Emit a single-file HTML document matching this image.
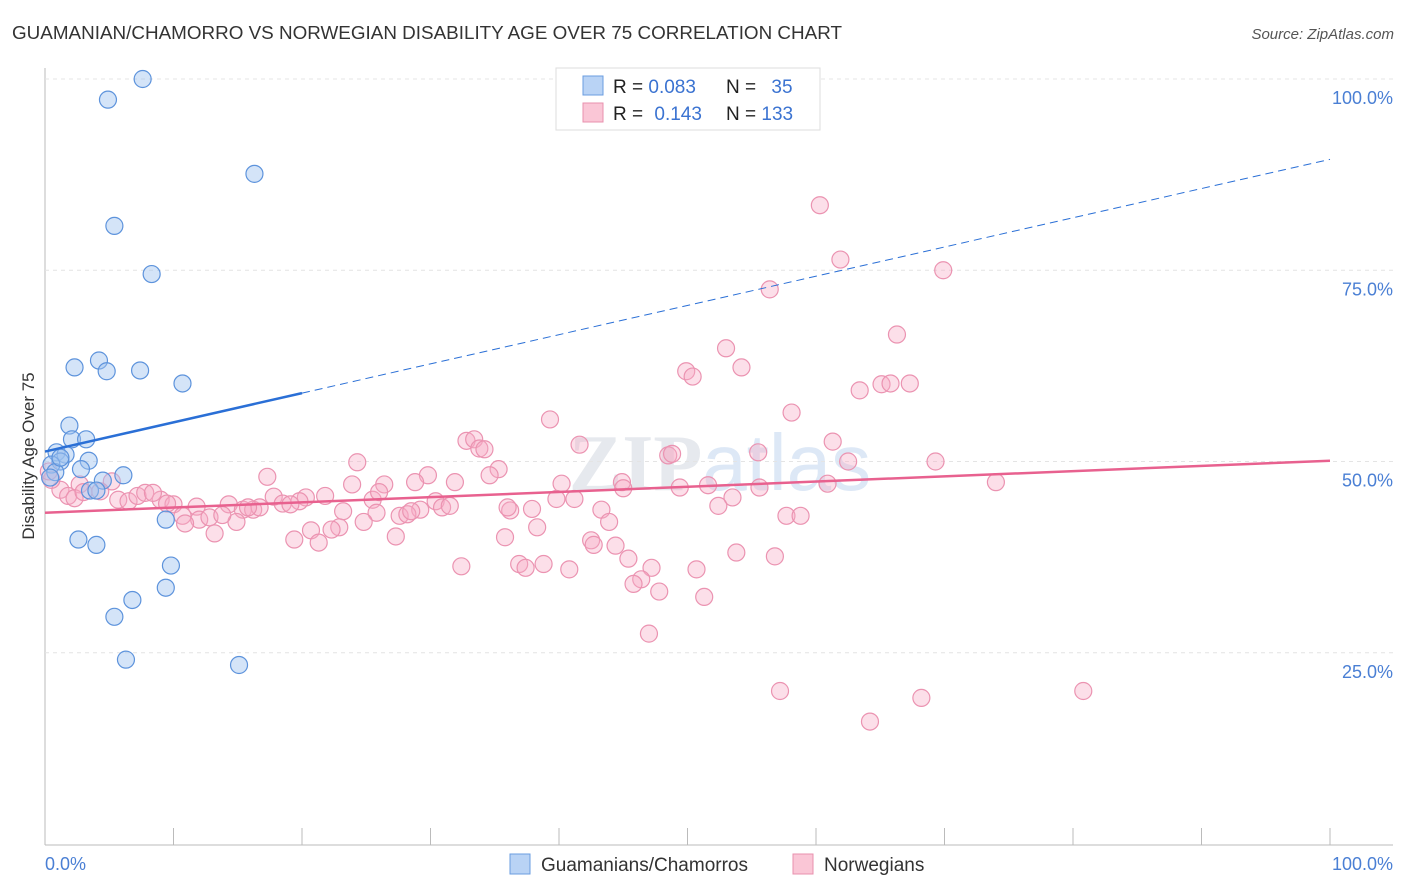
<!DOCTYPE html>
<html><head><meta charset="utf-8"><style>
body{margin:0;background:#fff;font-family:"Liberation Sans",sans-serif}
svg{display:block}
</style></head><body>
<svg id="c" width="1406" height="892" xmlns="http://www.w3.org/2000/svg">
<text x="12" y="39" font-size="18" fill="#333" textLength="830" lengthAdjust="spacingAndGlyphs">GUAMANIAN/CHAMORRO VS NORWEGIAN DISABILITY AGE OVER 75 CORRELATION CHART</text>
<text x="1394" y="39" font-size="15" fill="#555" font-style="italic" text-anchor="end">Source: ZipAtlas.com</text>
<text x="720" y="490" font-size="80" fill="#e6e9ee" text-anchor="middle" font-weight="bold" font-family="Liberation Serif,serif">ZIP<tspan fill="#dde8f6" font-family="Liberation Sans,sans-serif" font-weight="normal">atlas</tspan></text>
<text transform="translate(34,456) rotate(-90)" font-size="17" fill="#333" text-anchor="middle">Disability Age Over 75</text>
<g id="grid"></g><g id="ticks"></g><g id="pts"></g><g id="lines"></g>
<g>
<rect x="556" y="68" width="264" height="62" fill="#fff" stroke="#ddd"/>
<rect x="583" y="76" width="20" height="19" fill="#b9d3f5" stroke="#6a9de0"/>
<rect x="583" y="103" width="20" height="19" fill="#fac6d6" stroke="#e890ae"/>
<text x="613" y="93" font-size="19" fill="#222">R = <tspan fill="#3b73d1">0.083</tspan></text>
<text x="726" y="93" font-size="19" fill="#222">N = <tspan fill="#3b73d1" dx="10">35</tspan></text>
<text x="613" y="120" font-size="19" fill="#222">R = <tspan fill="#3b73d1" dx="6">0.143</tspan></text>
<text x="726" y="120" font-size="19" fill="#222">N = <tspan fill="#3b73d1">133</tspan></text>
</g>
<g>
<rect x="510" y="854" width="20" height="20" fill="#b9d3f5" stroke="#6a9de0"/>
<text x="541" y="871" font-size="19" fill="#333">Guamanians/Chamorros</text>
<rect x="793" y="854" width="20" height="20" fill="#fac6d6" stroke="#e890ae"/>
<text x="824" y="871" font-size="19" fill="#333">Norwegians</text>
</g>
</svg>
<script>
const xTickLabels=["0.0%","100.0%"];
const yTicks=[25,50,75,100];
const yTickLabels=["25.0%","50.0%","75.0%","100.0%"];
const blueX=[7.6,4.9,16.3,5.4,8.3,4.2,2.3,4.8,7.4,10.7,1.9,2.1,3.2,0.9,1.6,1.2,3.4,0.5,2.8,0.8,6.1,0.4,4.5,3.5,4.0,9.4,2.6,4.0,9.8,6.8,9.4,5.4,6.3,15.1,1.2];
const blueY=[100,97.3,87.6,80.8,74.5,63.2,62.3,61.8,61.9,60.2,54.7,52.9,52.9,51.2,50.9,50.0,50.1,49.6,49.0,48.6,48.2,47.9,47.5,46.2,46.2,42.4,39.8,39.1,36.4,31.9,33.5,29.7,24.1,23.4,50.5];
const pinkX=[60.3,61.9,69.9,56.4,66.3,53.0,54.2,49.9,50.4,63.4,65.1,65.8,67.3,58.1,39.3,61.3,41.6,32.8,33.4,33.8,34.2,55.5,48.5,48.8,62.5,69.3,24.3,35.3,34.6,17.3,29.8,60.9,74.0,40.2,44.9,23.9,26.4,28.8,31.9,49.4,51.6,55.6,53.5,39.8,41.2,21.8,17.8,20.3,25.5,30.4,19.8,18.5,19.1,52.4,43.3,30.9,31.5,29.2,36.2,37.9,11.8,14.3,15.4,16.2,16.7,5.7,6.5,9.0,10.0,7.2,7.8,8.4,5.2,4.3,2.7,1.2,1.8,2.3,0.5,0.3,10.7,12.0,12.8,10.9,14.9,13.2,23.2,25.8,27.6,28.2,24.8,22.9,22.3,20.7,43.9,38.3,57.7,58.8,19.4,21.3,27.3,35.8,42.5,42.7,44.4,53.8,56.8,45.4,32.4,36.9,37.4,38.8,40.8,47.2,50.7,46.4,45.8,47.8,51.3,47.0,57.2,68.2,80.8,64.2,3.0,9.5,13.8,26.0,45.0,36.0,28.5,15.8];
const pinkY=[83.5,76.4,75.0,72.5,66.6,64.8,62.3,61.8,61.1,59.3,60.1,60.2,60.2,56.4,55.5,52.6,52.2,52.7,52.9,51.7,51.6,51.2,50.8,51.0,50.0,50.0,49.9,49.0,48.2,48.0,48.2,47.1,47.3,47.1,47.3,47.0,47.0,47.3,47.3,46.6,46.9,46.6,45.3,45.1,45.1,45.5,45.4,45.3,45.0,44.8,44.8,44.5,44.4,44.2,43.7,44.0,44.2,43.7,43.6,43.8,44.1,44.4,43.7,43.7,44.0,45.0,44.8,45.0,44.4,45.5,45.9,45.9,47.4,46.1,47.0,46.3,45.5,45.2,47.6,48.7,42.9,42.4,42.7,41.9,42.1,40.6,43.5,43.3,42.9,43.1,42.1,41.4,41.1,41.0,42.1,41.4,42.9,42.9,39.8,39.4,40.2,40.1,39.7,39.1,39.0,38.1,37.6,37.3,36.3,36.6,36.1,36.6,35.9,36.1,35.9,34.6,34.0,33.0,32.3,27.5,20.0,19.1,20.0,16.0,46.0,44.5,43.0,46.0,46.5,44.0,43.5,44.0];
const trendIntercept=[51.3,43.3];
const trendSlope=[0.382,0.068];
const NS="http://www.w3.org/2000/svg";
const X0=45,X1=1330,Y0=844,Y100=79;
const sx=v=>X0+(X1-X0)*v/100, sy=v=>Y0-(Y0-Y100)*v/100;
function mk(t,a,p){const e=document.createElementNS(NS,t);for(const k in a)e.setAttribute(k,a[k]);document.getElementById(p).appendChild(e);return e;}
let ax=mk('line',{x1:X0,y1:68,x2:X0,y2:845,stroke:'#bbb'},'grid');

let bx=mk('line',{x1:X0,y1:845,x2:1393,y2:845,stroke:'#bbb'},'grid');

yTicks.forEach((v,i)=>{
 const g=mk('line',{x1:X0,y1:sy(v),x2:1393,y2:sy(v),stroke:'#e4e4e4','stroke-dasharray':'4,4'},'grid');
 
 const t=mk('text',{x:1393,y:sy(v)+25,'font-size':18,fill:'#4a7fd4','text-anchor':'end'},'ticks');
 t.textContent=yTickLabels[i];
 
});
for(let i=0;i<=10;i++){
 const l=mk('line',{x1:sx(i*10),y1:828,x2:sx(i*10),y2:845,stroke:'#bbb'},'ticks');
 
}
[[0,'start',45],[100,'end',1393]].forEach((d,i)=>{
 const t=mk('text',{x:d[2],y:870,'font-size':18,fill:'#4a7fd4','text-anchor':d[1]},'ticks');
 t.textContent=xTickLabels[i];
 
});
pinkX.forEach((x,i)=>{
 const c=mk('circle',{cx:sx(x),cy:sy(pinkY[i]),r:8.5,fill:'rgba(246,170,196,0.38)',stroke:'#eb93b1','stroke-width':1.2},'pts');
 
});
blueX.forEach((x,i)=>{
 const c=mk('circle',{cx:sx(x),cy:sy(blueY[i]),r:8.5,fill:'rgba(160,196,240,0.45)',stroke:'#5d93dc','stroke-width':1.2},'pts');
 
});
const f=(k,x)=>trendIntercept[k]+trendSlope[k]*x;
let b1=mk('line',{x1:sx(0),y1:sy(f(0,0)),x2:sx(20),y2:sy(f(0,20)),stroke:'#2a6fd6','stroke-width':2.5},'lines');

let b2=mk('line',{x1:sx(20),y1:sy(f(0,20)),x2:sx(100),y2:sy(f(0,100)),stroke:'#2a6fd6','stroke-width':1,'stroke-dasharray':'8,5'},'lines');

let p1=mk('line',{x1:sx(0),y1:sy(f(1,0)),x2:sx(100),y2:sy(f(1,100)),stroke:'#e8618f','stroke-width':2.5},'lines');

</script>
</body></html>
